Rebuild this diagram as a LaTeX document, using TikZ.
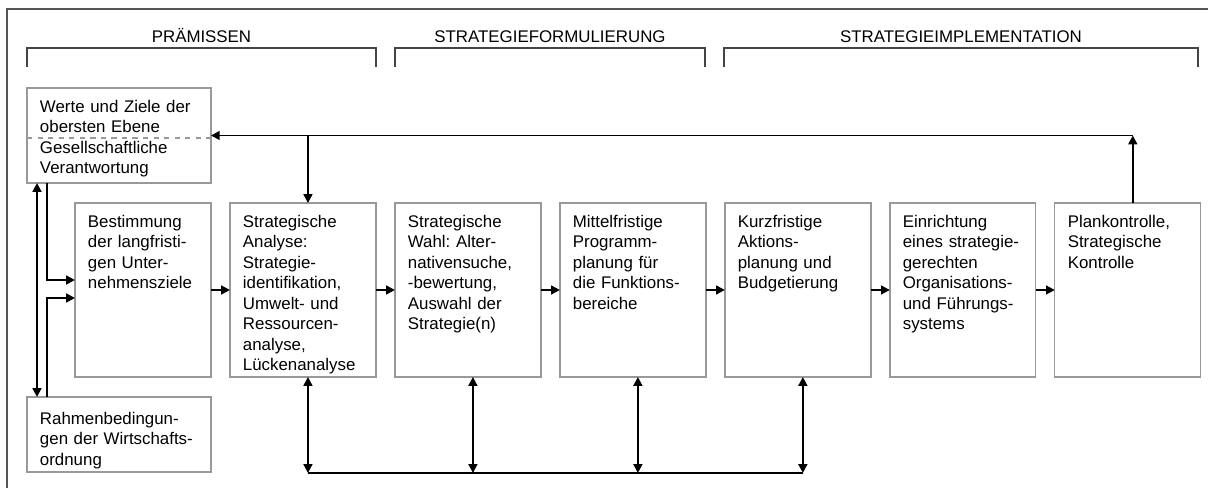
\documentclass[tikz,border=0pt]{standalone}
\usepackage{fontspec}
\setmainfont{Liberation Sans}
\usetikzlibrary{positioning,arrows.meta}

\definecolor{boxGray}{HTML}{999999}
\definecolor{frameGray}{HTML}{555555}
\definecolor{bracketGray}{HTML}{444444}

\begin{document}
\begin{tikzpicture}[x=0.02cm,y=-0.02cm,%%
  textFont/.style={font=\fontsize{9.6pt}{11.7pt}\selectfont\frenchspacing},%%
  boxStyle/.style={draw=boxGray,line width=0.75pt,outer sep=0pt,
    inner xsep=0.26cm,inner ysep=0.23cm,align=left,text height=0.25cm,textFont},%%
  stepBox/.style={boxStyle,text width=2.40cm,text depth=2.77cm},%%
  arrowStyle/.style={-{Triangle[length=5pt,width=5pt]},line width=1.1pt},%%
  twoWayStyle/.style={{Triangle[length=5pt,width=5pt]}-{Triangle[length=5pt,width=5pt]},line width=1.1pt},%%
  bracketStyle/.style={draw=bracketGray,line width=0.75pt},%%
  headStyle/.style={textFont,inner sep=0pt,anchor=base}
]
%%
%% Page and outer frame.
%%
\useasboundingbox (0,0) rectangle (1208,488);
\draw[frameGray,line width=1.1pt] (7,488) |- (1208,9);
%%
%% The three phases.
%%
\draw[bracketStyle] (27,67) |- (376,48) -- (376,67);
\node[headStyle] (praemissen) at (201.5,42) {PRÄMISSEN};
\draw[bracketStyle] (395,67) |- (705,48) -- (705,67);
\node[headStyle] (formulierung) at (550,42) {STRATEGIEFORMULIERUNG};
\draw[bracketStyle] (724,67) |- (1198,48) -- (1198,67);
\node[headStyle] (implementation) at (961,42) {STRATEGIEIMPLEMENTATION};
%%
%% The premises on the left.
%%
\node[boxStyle,text width=3.16cm,text depth=1.19cm,anchor=north west] (werte) at (27,88)
  {Werte und Ziele der\\obersten Ebene\\Gesellschaftliche\\Verantwortung};
\draw[boxGray,dashed,line width=0.6pt] ([yshift=-0.05cm]werte.west) -- ([yshift=-0.05cm]werte.east);
\node[boxStyle,text width=3.16cm,text height=0.31cm,text depth=0.73cm,anchor=north west] (rahmen) at (27,397)
  {Rahmenbedingun-\\gen der Wirtschafts-\\ordnung};
%%
%% The row of steps.
%%
\node[stepBox,text width=2.20cm,anchor=north west] (bestimmung) at (75,203)
  {Bestimmung\\der langfristi-\\gen Unter-\\nehmensziele};
\node[stepBox,right=0.38cm of bestimmung] (analyse)
  {Strategische\\Analyse:\\Strategie-\\identifikation,\\Umwelt- und\\Ressourcen-\\analyse,\\Lückenanalyse};
\node[stepBox,right=0.38cm of analyse] (wahl)
  {Strategische\\Wahl: Alter-\\nativensuche,\\-bewertung,\\Auswahl der\\Strategie(n)};
\node[stepBox,right=0.38cm of wahl] (programm)
  {Mittelfristige\\Programm-\\planung für\\die Funktions-\\bereiche};
\node[stepBox,right=0.38cm of programm] (aktion)
  {Kurzfristige\\Aktions-\\planung und\\Budgetierung};
\node[stepBox,right=0.38cm of aktion] (organisation)
  {Einrichtung\\eines strategie-\\gerechten\\Organisations-\\und Führungs-\\systems};
\node[stepBox,right=0.38cm of organisation] (kontrolle)
  {Plankontrolle,\\Strategische\\Kontrolle};
%%
%% Flow along the row.
\foreach \a/\b in {bestimmung/analyse,analyse/wahl,wahl/programm,programm/aktion,aktion/organisation,organisation/kontrolle}
  \draw[arrowStyle] (\a.east) -- (\b.west);
%%
%% Feedback from the control back to the premises.
\coordinate (up) at ([xshift=0.1cm]kontrolle.north);
\coordinate (back) at (up |- werte.east);
\coordinate (down) at ([xshift=0.1cm]analyse.north);
\draw[arrowStyle] (up) -- (back);
\draw[arrowStyle] (back) -- (werte.east);
\draw[arrowStyle] (down |- werte.east) -- (down);
%%
%% Premises into the goals.
\draw[twoWayStyle] ([xshift=0.2cm]werte.south west) -- ([xshift=0.2cm]rahmen.north west);
\draw[arrowStyle] ([xshift=0.4cm]werte.south west) |- ([yshift=0.2cm]bestimmung.west);
\draw[arrowStyle] ([xshift=0.4cm]rahmen.north west) |- ([yshift=-0.16cm]bestimmung.west);
%%
%% Links below the row.
\foreach \n in {analyse,wahl,programm,aktion}
  \draw[twoWayStyle] ([xshift=0.1cm]\n.south) -- ([xshift=0.1cm,yshift=-1.92cm]\n.south);
\draw[line width=0.7pt] ([xshift=0.1cm,yshift=-1.92cm]analyse.south) -- ([xshift=0.1cm,yshift=-1.92cm]aktion.south);
\end{tikzpicture}
\end{document}
